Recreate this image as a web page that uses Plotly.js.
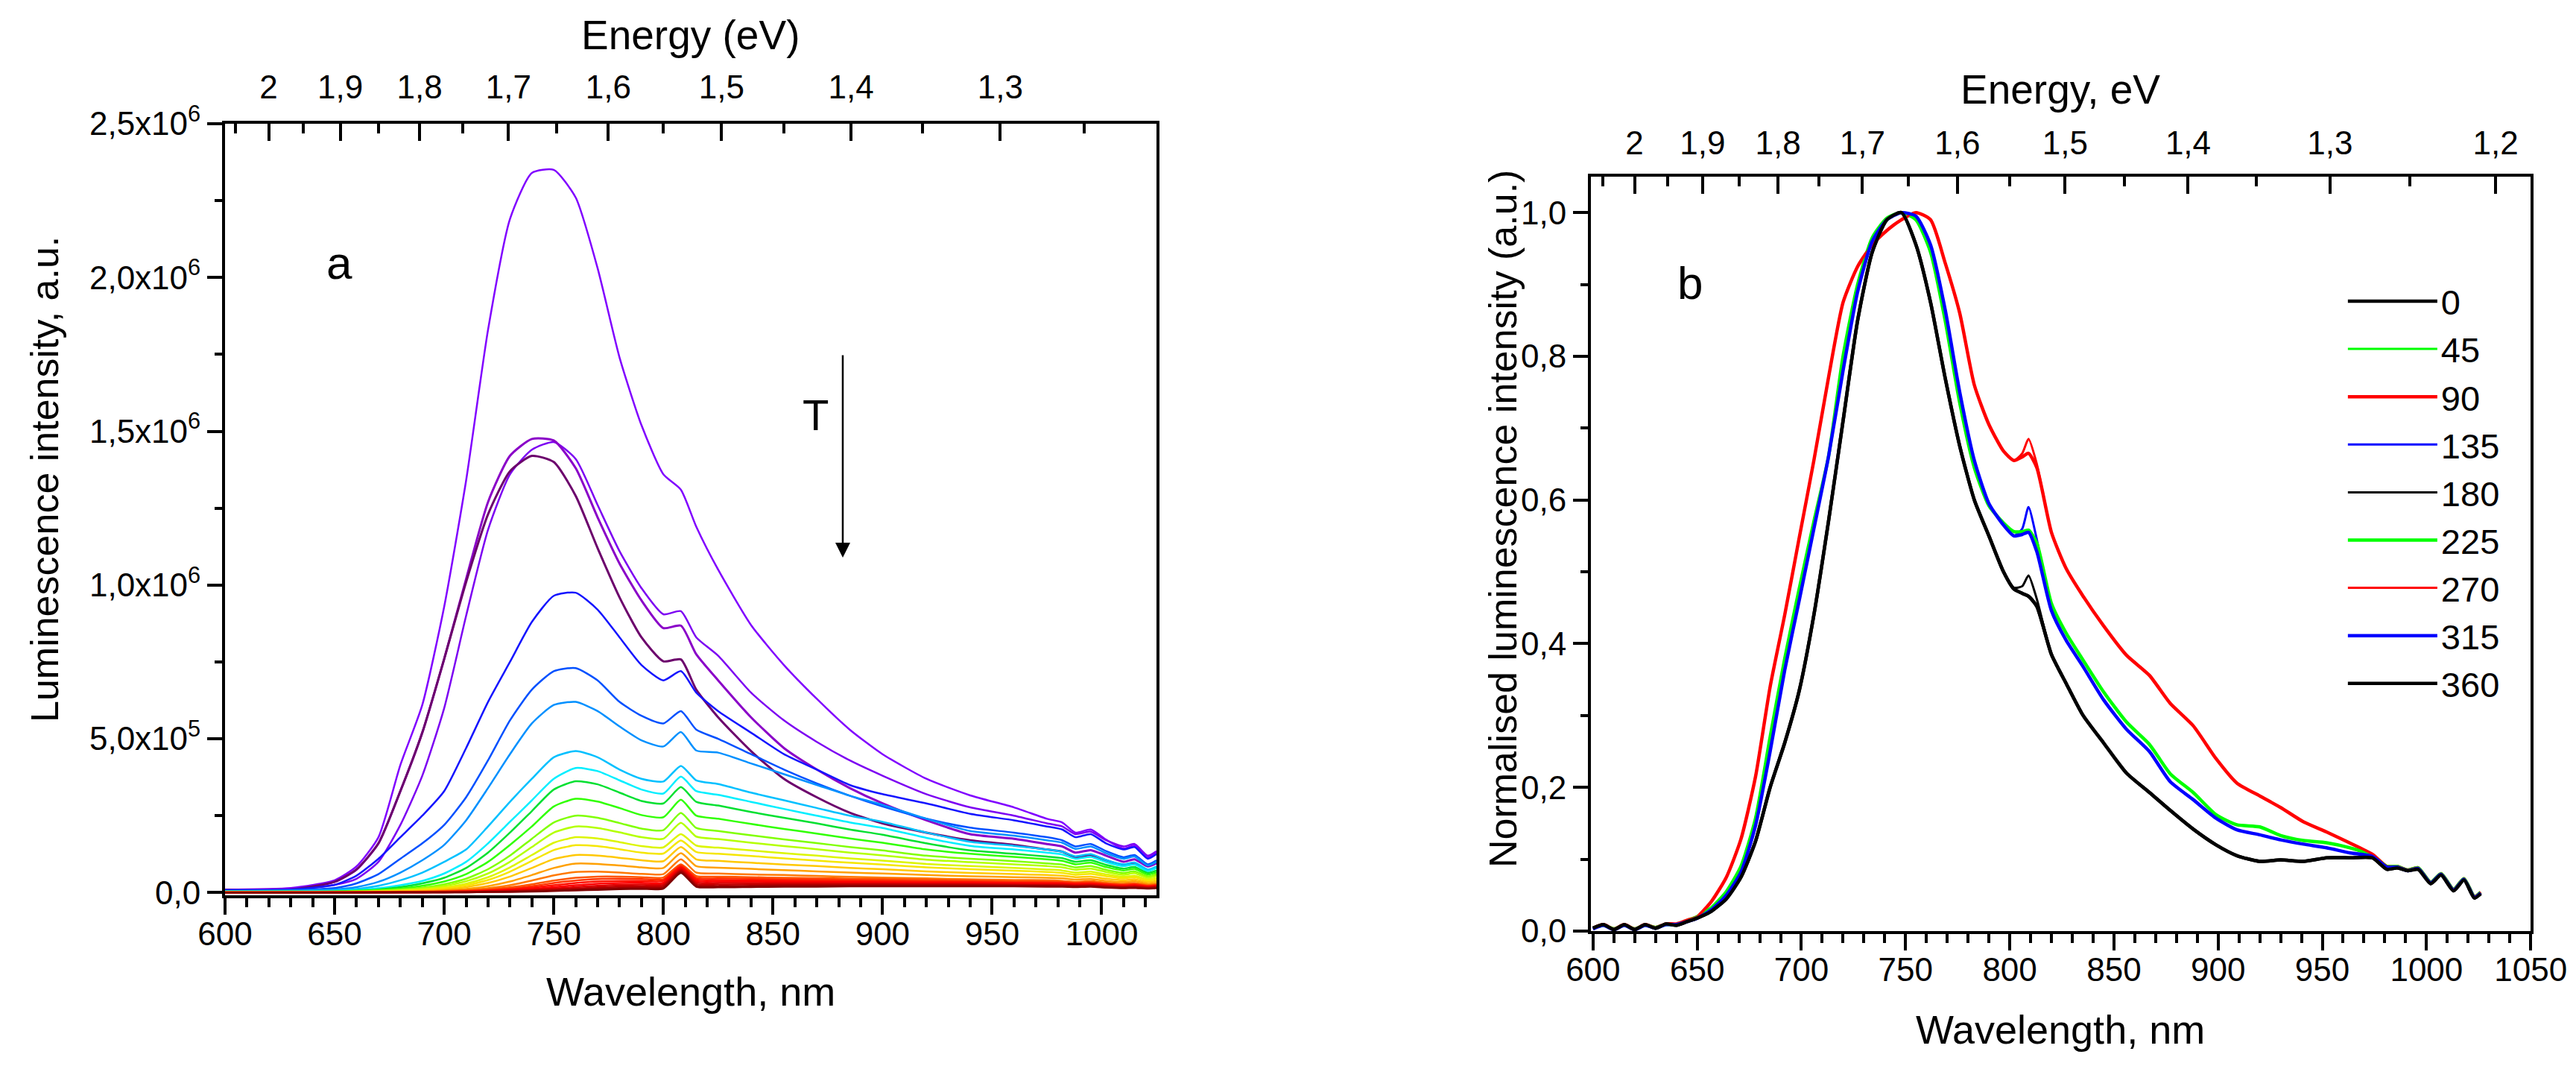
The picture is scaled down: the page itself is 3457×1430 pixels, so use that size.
<!DOCTYPE html>
<html>
<head>
<meta charset="utf-8">
<script src="https://cdn.plot.ly/plotly-3.0.1.min.js"></script>
<style>
  html, body { margin: 0; padding: 0; background: #fff; }
  #draw { width: 3457px; height: 1430px; }
</style>
</head>
<body>
<div id="draw"></div>
<script>
// ---------- panel a: spectra vs temperature (intensity in 10^3 counts) ----------
const wlA = [600, 630, 650, 660, 670, 680, 690, 700, 710, 720, 730, 740, 750, 760, 770, 780, 790, 800, 808, 815,
  825, 840, 855, 870, 885, 900, 920, 940, 960, 975, 982, 988, 995, 1002, 1010, 1015, 1021, 1025]

const specA = [
  ['#8000ff', 2.5, [10,15,40,85,180,415,610,930,1340,1830,2190,2340,2350,2260,2030,1740,1520,1360,1310,1190,1050,870,740,630,530,450,370,316,277,240,228,195,205,172,143,153,114,131]],
  ['#7c00f2', 2.5, [8,10,25,45,100,220,380,600,900,1180,1360,1440,1465,1410,1260,1110,990,905,915,830,770,650,560,490,430,380,320,277,250,225,215,190,198,170,150,158,120,135]],
  ['#8a00c8', 3, [8,10,35,75,160,330,520,760,1020,1270,1420,1475,1470,1380,1220,1070,950,860,868,775,690,570,470,400,340,290,235,190,175,158,150,130,138,120,100,108,85,95]],
  ['#6c006c', 3, [8,10,35,75,160,330,520,760,1010,1230,1370,1420,1400,1290,1120,960,830,752,758,660,570,460,370,310,260,225,195,170,155,140,133,115,122,105,88,95,72,82]],
  ['#1414ff', 2.5, [8,10,25,55,110,180,250,330,470,620,750,880,965,975,920,830,740,690,720,650,590,520,450,400,350,320,290,256,235,215,205,180,190,160,140,148,110,125]],
  ['#0050ff', 2.5, [6,8,15,30,60,110,160,220,310,430,560,660,720,730,690,620,575,550,590,530,500,450,400,355,315,280,240,211,195,180,170,150,158,135,115,122,92,105]],
  ['#0090ff', 2.5, [5,6,10,18,35,65,105,155,235,340,450,550,610,620,590,540,495,475,522,462,455,420,385,350,315,285,240,200,185,170,162,142,150,128,110,117,88,100]],
  ['#00c0ff', 2.5, [4,5,7,12,22,40,65,100,140,215,295,370,440,460,440,400,370,361,412,365,353,325,300,275,250,230,195,165,152,140,133,118,125,106,92,98,75,85]],
  ['#00eeff', 2.5, [3,4,5,8,14,24,38,62,100,160,230,300,370,405,395,365,335,322,377,330,318,295,272,250,228,210,178,152,140,130,124,110,116,99,86,91,70,80]],
  ['#00e030', 2.5, [3,3,4,6,10,18,30,48,80,130,195,265,335,362,352,325,298,290,343,295,283,262,243,225,205,188,160,137,126,117,112,100,105,90,78,83,64,72]],
  ['#30ff00', 2.5, [2,3,3,5,8,13,22,36,60,100,155,215,280,305,296,275,252,245,302,250,240,223,207,192,176,162,140,126,116,108,103,92,97,83,72,77,59,66]],
  ['#80ff00', 2.5, [2,2,3,4,6,10,16,27,45,76,120,175,228,250,243,226,208,203,259,210,200,186,173,161,148,137,120,110,102,95,91,82,86,74,64,69,53,60]],
  ['#b4ff00', 2.5, [2,2,2,3,5,8,13,22,37,62,100,148,195,215,210,196,180,175,227,182,174,162,151,141,130,121,107,99,92,86,82,74,78,67,58,63,48,55]],
  ['#dcf500', 2.5, [1,2,2,3,4,6,10,17,29,50,82,122,162,180,176,164,151,147,190,153,146,137,128,120,111,104,93,86,80,75,72,65,68,59,51,55,43,48]],
  ['#f5e600', 2.5, [1,1,2,2,3,5,8,14,24,41,68,103,138,154,151,141,130,127,169,132,126,119,111,104,97,91,82,76,71,67,64,58,61,53,46,50,39,44]],
  ['#ffc800', 2.5, [1,1,1,2,3,4,6,10,18,31,52,80,109,122,120,113,105,102,148,108,103,97,91,86,80,76,69,64,60,57,55,50,52,45,40,43,34,38]],
  ['#ffa000', 2.5, [1,1,1,1,2,3,4,7,12,21,36,57,80,94,93,88,82,80,128,86,81,77,73,69,65,62,57,53,50,48,46,42,44,38,34,37,29,32]],
  ['#ff7800', 2.5, [1,1,1,1,2,2,3,5,8,14,24,39,56,67,68,65,61,60,108,65,62,59,57,54,51,49,46,43,41,40,38,35,37,32,29,31,25,27]],
  ['#ff5500', 2.5, [1,1,1,1,1,2,2,4,6,10,17,27,39,48,52,52,50,49,92,54,52,50,48,47,45,44,42,40,38,37,36,33,35,30,27,29,23,26]],
  ['#ff3300', 2.5, [1,1,1,1,1,1,2,3,5,8,13,21,31,39,44,45,44,43,88,48,46,45,43,42,41,40,38,37,35,34,33,31,32,28,25,27,22,24]],
  ['#ff1100', 2.5, [1,1,1,1,1,1,1,2,4,6,10,16,24,31,36,38,38,38,84,43,41,40,39,38,37,36,35,34,32,31,31,29,30,26,23,25,20,22]],
  ['#ff0000', 2.5, [0,1,1,1,1,1,1,2,3,5,8,12,18,24,29,31,32,32,80,38,36,36,35,34,34,33,32,31,30,29,28,26,27,24,21,23,19,21]],
  ['#e00000', 2.5, [0,0,1,1,1,1,1,1,2,4,6,9,13,18,22,25,26,27,76,33,31,31,31,31,30,30,29,28,27,26,26,24,25,22,19,21,17,19]],
  ['#c00000', 2.5, [0,0,0,1,1,1,1,1,2,3,4,7,10,13,17,20,21,22,72,28,26,27,27,27,27,27,26,26,25,24,24,22,23,20,18,19,16,18]],
  ['#a00000', 2.5, [0,0,0,0,1,1,1,1,1,2,3,5,7,10,13,15,16,17,68,23,21,22,23,23,23,23,23,23,22,22,21,20,21,18,16,17,14,16]],
  ['#800000', 2.5, [0,0,0,0,0,1,1,1,1,2,2,3,5,7,9,11,12,13,64,19,17,18,19,19,20,20,20,20,20,19,19,18,19,16,14,15,13,14]]
]

const yTicksA = [0, 500, 1000, 1500, 2000, 2500]
const yTextA = ['0,0', '5,0x10<sup>5</sup>', '1,0x10<sup>6</sup>', '1,5x10<sup>6</sup>', '2,0x10<sup>6</sup>', '2,5x10<sup>6</sup>']
const energyA = [2, 1.9, 1.8, 1.7, 1.6, 1.5, 1.4, 1.3]
const energyMinorA = [2.05, 1.95, 1.85, 1.75, 1.65, 1.55, 1.45, 1.35, 1.25]

// ---------- panel b: normalised spectra ----------
const wlB = [600, 605, 610, 615, 620, 625, 630, 635, 640, 645, 650, 657, 664, 671, 678, 685, 692, 699, 706, 713,
  720, 727, 734, 741, 748, 755, 762, 769, 776, 783, 790, 797, 802, 806, 809, 813, 820, 827, 835, 845,
  856, 867, 877, 888, 899, 909, 920, 930, 941, 952, 963, 974, 981, 986, 991, 996, 1002, 1007, 1013, 1018, 1023, 1026]

const labelsB = ['0', '45', '90', '135', '180', '225', '270', '315', '360']
const colorsB = ['#000000', '#00ff00', '#ff0000', '#0000ff', '#000000', '#00ff00', '#ff0000', '#0000ff', '#000000']
const widthsB = [4.5, 3, 4.5, 3, 3, 4.5, 3, 4.5, 4.5]

const b0 = [.004,.009,.002,.009,.002,.009,.004,.010,.008,.013,.018,.028,.045,.075,.125,.200,.262,.335,.440,.570,
  .710,.850,.945,.990,1.0,.955,.875,.770,.675,.600,.550,.500,.476,.470,.466,.452,.385,.345,.301,.262,
  .220,.193,.168,.142,.120,.105,.097,.099,.097,.102,.102,.102,.086,.088,.084,.086,.066,.078,.056,.071,.046,.052]
const b45 = [.004,.008,.003,.008,.003,.008,.005,.009,.009,.014,.020,.033,.055,.090,.157,.270,.379,.477,.570,.660,
  .800,.900,.965,.992,1.0,.990,.945,.850,.735,.645,.592,.568,.556,.555,.556,.540,.456,.415,.378,.333,
  .291,.260,.219,.193,.162,.148,.145,.133,.126,.123,.116,.105,.090,.090,.085,.088,.068,.080,.058,.073,.048,.054]
const b90 = [.004,.009,.003,.009,.003,.009,.005,.010,.010,.015,.020,.042,.075,.128,.215,.340,.440,.548,.655,.770,
  .875,.925,.955,.975,.990,1.0,.990,.930,.860,.760,.705,.668,.655,.660,.665,.645,.555,.505,.467,.425,
  .384,.356,.317,.286,.240,.206,.188,.172,.152,.138,.123,.107,.090,.090,.085,.088,.068,.080,.058,.073,.048,.054]
const b135 = [.003,.008,.002,.008,.002,.008,.004,.009,.009,.013,.018,.030,.050,.082,.147,.250,.363,.461,.560,.660,
  .780,.890,.960,.990,1.0,.995,.955,.865,.750,.655,.595,.565,.550,.560,.590,.545,.446,.405,.369,.322,
  .281,.250,.208,.183,.157,.141,.134,.127,.121,.116,.109,.104,.089,.089,.084,.087,.067,.079,.057,.072,.047,.053]
const b180 = [.004,.009,.002,.009,.002,.009,.004,.010,.008,.013,.018,.028,.045,.075,.125,.200,.262,.335,.440,.570,
  .710,.850,.945,.990,1.0,.955,.875,.770,.675,.600,.550,.500,.478,.480,.495,.462,.385,.345,.301,.262,
  .220,.193,.168,.142,.120,.105,.097,.099,.097,.102,.102,.102,.086,.088,.084,.086,.066,.078,.056,.071,.046,.052]
const b225 = [.004,.008,.003,.008,.003,.008,.005,.009,.009,.014,.020,.033,.055,.090,.157,.270,.379,.477,.570,.660,
  .800,.900,.965,.992,1.0,.990,.945,.850,.735,.645,.592,.568,.556,.556,.558,.540,.456,.415,.378,.333,
  .291,.260,.219,.193,.162,.148,.145,.133,.126,.123,.116,.105,.090,.090,.085,.088,.068,.080,.058,.073,.048,.054]
const b270 = [.004,.009,.003,.009,.003,.009,.005,.010,.010,.015,.020,.042,.075,.128,.215,.340,.440,.548,.655,.770,
  .875,.925,.955,.975,.990,1.0,.990,.930,.860,.760,.705,.668,.655,.665,.685,.650,.555,.505,.467,.425,
  .384,.356,.317,.286,.240,.206,.188,.172,.152,.138,.123,.107,.090,.090,.085,.088,.068,.080,.058,.073,.048,.054]
const b315 = [.003,.008,.002,.008,.002,.008,.004,.009,.009,.013,.018,.030,.050,.082,.147,.250,.363,.461,.560,.660,
  .780,.890,.960,.990,1.0,.995,.955,.865,.750,.655,.595,.565,.550,.552,.555,.528,.446,.405,.369,.322,
  .281,.250,.208,.183,.157,.141,.134,.127,.121,.116,.109,.104,.089,.089,.084,.087,.067,.079,.057,.072,.047,.053]
const b360 = [.004,.009,.002,.009,.002,.009,.004,.010,.008,.013,.018,.028,.045,.075,.125,.200,.262,.335,.440,.570,
  .710,.850,.945,.990,1.0,.955,.875,.770,.675,.600,.550,.500,.476,.470,.466,.452,.385,.345,.301,.262,
  .220,.193,.168,.142,.120,.105,.097,.099,.097,.102,.102,.102,.086,.088,.084,.086,.066,.078,.056,.071,.046,.052]
const seriesB = [b0, b45, b90, b135, b180, b225, b270, b315, b360]

const energyB = [2, 1.9, 1.8, 1.7, 1.6, 1.5, 1.4, 1.3, 1.2]
const energyMinorB = [2.05, 1.95, 1.85, 1.75, 1.65, 1.55, 1.45, 1.35, 1.25]

const HC = 1239.84  // eV*nm
const toNm = (e) => HC / e
const fmt = (e) => String(e).replace('.', ',')

const note = (text, x, y, size, extra) => Object.assign({
  text: text, x: x, y: y, xref: 'paper', yref: 'paper', showarrow: false,
  xanchor: 'center', yanchor: 'middle', font: {size: size}
}, extra || {})

const main = () => {
  const traces = []
  specA.forEach(([color, w, vals]) => {
    traces.push({
      x: wlA, y: vals, xaxis: 'x', yaxis: 'y', type: 'scatter', mode: 'lines',
      line: {color: color, width: w, shape: 'spline', smoothing: 0.6},
      showlegend: false, hoverinfo: 'skip'
    })
  })
  traces.push({x: [], y: [], xaxis: 'x2', yaxis: 'y', type: 'scatter', showlegend: false})

  seriesB.forEach((vals, i) => {
    traces.push({
      x: wlB, y: vals, xaxis: 'x3', yaxis: 'y2', type: 'scatter', mode: 'lines', name: labelsB[i],
      line: {color: colorsB[i], width: widthsB[i], shape: 'spline', smoothing: 0.6},
      hoverinfo: 'skip'
    })
  })
  traces.push({x: [], y: [], xaxis: 'x4', yaxis: 'y2', type: 'scatter', showlegend: false})

  const tickFont = {family: 'Liberation Sans, Arial, sans-serif', size: 44, color: '#000'}
  const common = {showgrid: false, zeroline: false, showline: true, linecolor: '#000', linewidth: 4,
    tickcolor: '#000', tickwidth: 4, tickfont: tickFont}

  const layout = {
    width: 3457, height: 1430,
    margin: {l: 0, r: 0, t: 0, b: 0},
    paper_bgcolor: '#fff', plot_bgcolor: '#fff',
    separators: ', ',
    font: {family: 'Liberation Sans, Arial, sans-serif', color: '#000'},
    xaxis: Object.assign({}, common, {
      domain: [0.08736, 0.44895], anchor: 'y', range: [600, 1025],
      ticks: 'outside', ticklen: 22, tick0: 0, dtick: 50, ticklabelstandoff: -12,
      minor: {dtick: 10, ticks: 'outside', ticklen: 12, tickwidth: 4, tickcolor: '#000'}
    }),
    xaxis2: Object.assign({}, common, {
      overlaying: 'x', side: 'top', anchor: 'y', range: [600, 1025],
      tickmode: 'array', tickvals: energyA.map(toNm), ticktext: energyA.map(fmt),
      ticks: 'inside', ticklen: 23, ticklabelstandoff: 12,
      minor: {tickmode: 'array', tickvals: energyMinorA.map(toNm), ticks: 'inside', ticklen: 13, tickwidth: 4, tickcolor: '#000'}
    }),
    yaxis: Object.assign({}, common, {
      domain: [0.1601, 0.8839], anchor: 'x', range: [-9, 2500], mirror: true,
      tickmode: 'array', tickvals: yTicksA, ticktext: yTextA,
      ticks: 'outside', ticklen: 20,
      minor: {dtick: 250, ticks: 'outside', ticklen: 10, tickwidth: 4, tickcolor: '#000'}
    }),
    xaxis3: Object.assign({}, common, {
      domain: [0.6176, 0.9824], anchor: 'y2', range: [599, 1050],
      ticks: 'outside', ticklen: 22, tick0: 0, dtick: 50, ticklabelstandoff: -12,
      minor: {dtick: 10, ticks: 'outside', ticklen: 12, tickwidth: 4, tickcolor: '#000'}
    }),
    xaxis4: Object.assign({}, common, {
      overlaying: 'x3', side: 'top', anchor: 'y2', range: [599, 1050],
      tickmode: 'array', tickvals: energyB.map(toNm), ticktext: energyB.map(fmt),
      ticks: 'inside', ticklen: 23, ticklabelstandoff: 8,
      minor: {tickmode: 'array', tickvals: energyMinorB.map(toNm), ticks: 'inside', ticklen: 13, tickwidth: 4, tickcolor: '#000'}
    }),
    yaxis2: Object.assign({}, common, {
      domain: [0.12657, 0.83427], anchor: 'x3', range: [0, 1.05], mirror: true,
      dtick: 0.2, tick0: 0, tickformat: '.1f',
      ticks: 'outside', ticklen: 20,
      minor: {dtick: 0.1, ticks: 'outside', ticklen: 10, tickwidth: 4, tickcolor: '#000'}
    }),
    legend: {
      x: 0.910, y: 0.7434, xanchor: 'left', yanchor: 'top',
      bgcolor: 'rgba(0,0,0,0)', borderwidth: 0, itemwidth: 120,
      font: {family: 'Liberation Sans, Arial, sans-serif', size: 47, color: '#000'},
      tracegroupgap: 0
    },
    annotations: [
      note('Energy (eV)', 0.26815, 0.96713, 55),
      note('Wavelength, nm', 0.26815, 0.06993, 54),
      note('Luminescence intensity, a.u.', 0.01736, 0.55035, 52, {textangle: -90}),
      note('a', 0.13162, 0.75315, 62),
      note('T', 0.31646, 0.61049, 58),
      {text: '', x: 0.32716, y: 0.47692, xref: 'paper', yref: 'paper', showarrow: true,
        ax: 0, ay: -273, arrowhead: 2, arrowsize: 1.6, arrowwidth: 2.5, arrowcolor: '#000'},
      note('Energy, eV', 0.79983, 0.91608, 55),
      note('Wavelength, nm', 0.79983, 0.03427, 54),
      note('Normalised luminescence intensity (a.u.)', 0.58345, 0.51329, 52, {textangle: -90}),
      note('b', 0.65606, 0.73427, 62)
    ]
  }

  Plotly.newPlot('draw', traces, layout, {displayModeBar: false, staticPlot: true})
}

main()
</script>
</body>
</html>
